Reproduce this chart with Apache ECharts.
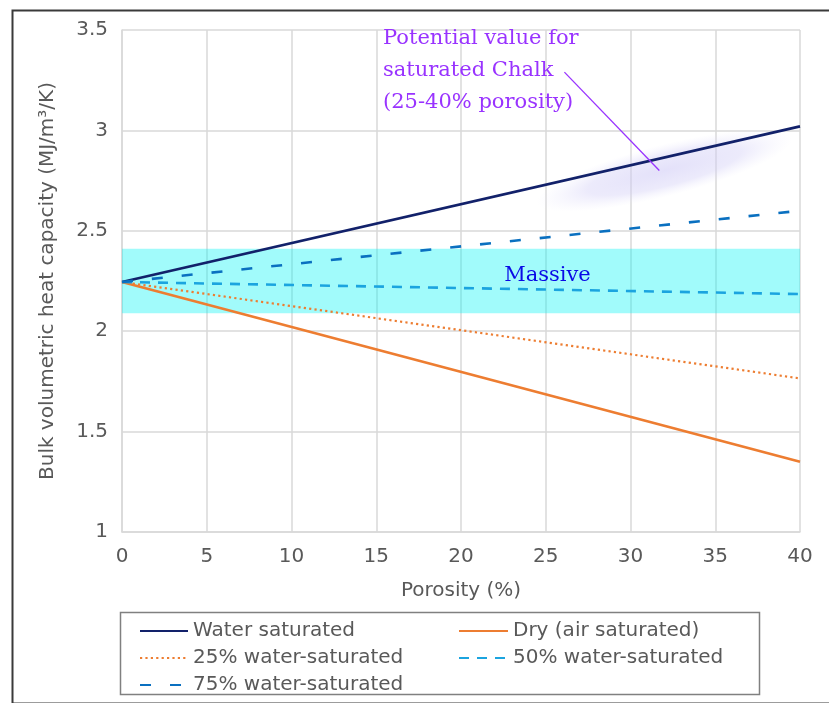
<!DOCTYPE html>
<html>
<head>
<meta charset="utf-8">
<script src="https://cdn.jsdelivr.net/npm/echarts@6/dist/echarts.min.js"></script>
<style>html,body{margin:0;padding:0;background:#fff;}#c{width:829px;height:703px;}</style>
</head>
<body>
<div id="c"></div>
<script>
// ---- data ----
const porosity = [0, 40];
const waterSaturated = [2.245, 3.02];
const drySaturated = [2.245, 1.35];
const water25 = [2.245, 1.765];
const water50 = [2.245, 2.185];
const water75 = [2.245, 2.60];
const seriesNames = ['Water saturated', 'Dry (air saturated)', '25% water-saturated', '50% water-saturated', '75% water-saturated'];
const massiveRange = [2.09, 2.41];
const massiveLabelAt = [25.1, 2.275];
const chalkCenter = [32.0, 2.80];
const chalkPointer = [[26.1, 3.29], [31.7, 2.80]];
const chalkTextAt = [15.4, 3.296];
const chalkText = 'Potential value for\nsaturated Chalk\n(25-40% porosity)';
const xTicks = {min: 0, max: 40, interval: 5};
const yTicks = {min: 1, max: 3.5, interval: 0.5};

const pairs = ys => porosity.map((x, i) => [x, ys[i]]);
const sans = 'DejaVu Sans';
const serif = 'DejaVu Serif';
const gray = '#595959';

const chart = echarts.init(document.getElementById('c'), null, {renderer: 'canvas'});

function lineSeries(name, ys, color, width, type) {
  return {
    name: name, type: 'line', data: pairs(ys), showSymbol: false, symbol: 'none',
    z: 3, silent: true,
    lineStyle: {color: color, width: width, type: type, cap: 'butt'},
    itemStyle: {color: color}
  };
}

const hiddenSymbol = {color: 'rgba(0,0,0,0)', borderColor: 'rgba(0,0,0,0)', borderWidth: 0};

const option = {
  animation: false,
  backgroundColor: '#fff',
  grid: {left: 122, right: 29, top: 30, bottom: 171, containLabel: false},
  xAxis: {
    type: 'value', min: xTicks.min, max: xTicks.max, interval: xTicks.interval,
    name: 'Porosity (%)', nameLocation: 'middle', nameGap: 49,
    nameTextStyle: {fontFamily: sans, fontSize: 20, color: gray},
    axisLine: {show: true, lineStyle: {color: '#d9d9d9', width: 1.5}},
    axisTick: {show: false},
    axisLabel: {fontFamily: sans, fontSize: 20, color: gray, margin: 15},
    splitLine: {show: true, lineStyle: {color: '#d9d9d9', width: 1.5}}
  },
  yAxis: {
    type: 'value', min: yTicks.min, max: yTicks.max, interval: yTicks.interval,
    name: 'Bulk volumetric heat capacity (MJ/m³/K)', nameLocation: 'middle', nameGap: 64,
    nameTextStyle: {fontFamily: sans, fontSize: 20, color: gray},
    axisLine: {show: true, lineStyle: {color: '#d9d9d9', width: 1.5}},
    axisTick: {show: false},
    axisLabel: {fontFamily: sans, fontSize: 20, color: gray, margin: 14},
    splitLine: {show: true, lineStyle: {color: '#d9d9d9', width: 1.5}}
  },
  legend: [
    {
      data: [seriesNames[0], seriesNames[2], seriesNames[4]],
      orient: 'vertical', left: 134, top: 616, itemWidth: 48, itemHeight: 14, itemGap: 7,
      itemStyle: hiddenSymbol,
      textStyle: {fontFamily: sans, fontSize: 20, color: gray, lineHeight: 20},
      selectedMode: false
    },
    {
      data: [seriesNames[1], seriesNames[3]],
      orient: 'vertical', left: 453, top: 616, itemWidth: 49, itemHeight: 14, itemGap: 7,
      itemStyle: hiddenSymbol,
      textStyle: {fontFamily: sans, fontSize: 20, color: gray, lineHeight: 20},
      selectedMode: false
    }
  ],
  graphic: [
    {type: 'rect', left: 10, top: 8, silent: true, z: 0,
      shape: {width: 840, height: 693},
      style: {fill: 'none', stroke: '#3a3a3a', lineWidth: 2}},
    {type: 'rect', left: 118, top: 610, silent: true, z: 0,
      shape: {width: 639, height: 82},
      style: {fill: 'none', stroke: '#808080', lineWidth: 1.5}}
  ],
  series: [
    {
      name: 'band', type: 'line', data: [], silent: true, z: 1,
      markArea: {
        silent: true,
        itemStyle: {color: 'rgba(0,243,243,0.37)', opacity: 1},
        data: [[{xAxis: xTicks.min, yAxis: massiveRange[0]}, {xAxis: xTicks.max, yAxis: massiveRange[1]}]]
      },
      markPoint: {
        silent: true, symbol: 'circle', symbolSize: 0,
        label: {show: true, position: 'inside', formatter: 'Massive', fontFamily: serif, fontSize: 21, color: '#0a0ae6'},
        data: [{coord: massiveLabelAt}]
      }
    },
    {
      name: 'chalk', type: 'custom', silent: true, z: 2, clip: false,
      data: [chalkCenter],
      renderItem: function (params, api) {
        const c = api.coord(chalkCenter);
        const r = 26;
        return {
          type: 'circle',
          x: c[0], y: c[1], rotation: 0.25, scaleX: 132 / r, scaleY: 1,
          shape: {cx: 0, cy: 0, r: r},
          style: {
            fill: new echarts.graphic.RadialGradient(0.5, 0.5, 0.5, [
              {offset: 0, color: 'rgba(205,200,245,0.55)'},
              {offset: 0.6, color: 'rgba(210,206,246,0.42)'},
              {offset: 1, color: 'rgba(230,228,252,0)'}
            ])
          }
        };
      }
    },
    lineSeries(seriesNames[0], waterSaturated, '#12216a', 2.6, 'solid'),
    lineSeries(seriesNames[1], drySaturated, '#ed7d31', 2.6, 'solid'),
    lineSeries(seriesNames[2], water25, '#ed7d31', 2.2, [2.2, 3.2]),
    lineSeries(seriesNames[3], water50, '#1ba4df', 2.6, [10, 8]),
    lineSeries(seriesNames[4], water75, '#0a70c0', 2.6, [11, 19]),
    {
      name: 'chalkNote', type: 'custom', silent: true, z: 4, clip: false,
      data: [chalkTextAt],
      renderItem: function (params, api) {
        const p0 = api.coord(chalkPointer[0]);
        const p1 = api.coord(chalkPointer[1]);
        const t = api.coord(chalkTextAt);
        return {
          type: 'group',
          children: [
            {type: 'line', shape: {x1: p0[0], y1: p0[1], x2: p1[0], y2: p1[1]},
              style: {stroke: '#9933ff', lineWidth: 1.3}},
            {type: 'text', x: t[0], y: t[1],
              style: {text: chalkText, fontFamily: serif, fontSize: 21, fill: '#9933ff',
                lineHeight: 32, align: 'left', verticalAlign: 'middle'}}
          ]
        };
      }
    }
  ]
};
chart.setOption(option);
</script>
</body>
</html>
